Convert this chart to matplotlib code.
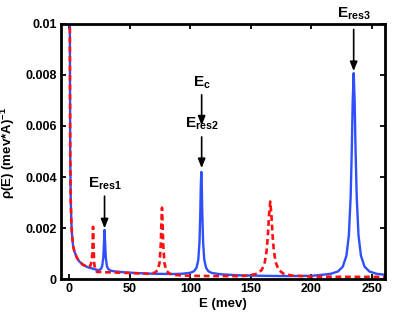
import matplotlib
matplotlib.use("Agg")
import matplotlib.pyplot as plt

plt.rcParams['font.family'] = ['Liberation Sans', 'DejaVu Sans']
plt.rcParams['font.weight'] = 'bold'
plt.rcParams['mathtext.fontset'] = 'custom'
plt.rcParams['mathtext.rm'] = 'Liberation Sans:bold'
plt.rcParams['mathtext.bf'] = 'Liberation Sans:bold'
plt.rcParams['mathtext.it'] = 'Liberation Sans'
plt.rcParams['mathtext.sf'] = 'Liberation Sans'

# Blue solid curve (E in mev, rho)
blue_E = [0.1, 0.3, 0.6, 1, 1.5, 2, 3, 4, 6, 8, 11, 15, 20, 24, 26, 27, 28, 28.5, 29,
          29.5, 30, 31, 32, 34, 38, 45, 55, 70, 85, 93, 100, 103, 105, 106.5, 107.5,
          108.2, 108.6, 109, 109.4, 109.8, 110.5, 111.5, 113, 115, 118, 125, 140, 160,
          180, 200, 209, 216, 222, 226, 229, 231, 232.5, 233.5, 234.2, 235, 235.8,
          236.5, 237.5, 239, 241, 244, 248, 254, 261]
blue_rho = [0.02, 0.01, 0.005, 0.0032, 0.0023, 0.0018, 0.0013, 0.0011, 0.00085, 0.0007,
            0.00057, 0.00047, 0.0004, 0.00035, 0.0004, 0.0005, 0.00085, 0.00138, 0.00193,
            0.00138, 0.00085, 0.0005, 0.0004, 0.00033, 0.0003, 0.00027, 0.00024, 0.00021,
            0.0002, 0.00021, 0.00025, 0.00031, 0.00044, 0.00075, 0.00143,
            0.00264, 0.00365, 0.0042, 0.00365, 0.00264, 0.00143, 0.00075, 0.00044, 0.0003,
            0.00024, 0.00019, 0.00015, 0.00013,
            0.00012, 0.00013, 0.00017, 0.00021, 0.0003, 0.00049, 0.00092, 0.00171, 0.00322,
            0.0052, 0.00697, 0.00807, 0.00697,
            0.0052, 0.00322, 0.00171, 0.00092, 0.00049, 0.0003, 0.00021, 0.00017]

# Red dashed curve
red_E = [0.1, 0.3, 0.6, 1, 1.5, 2, 3, 4, 6, 8, 11, 15, 17, 18.5, 19, 19.5, 20, 20.5,
         21.5, 23, 26, 30, 38, 50, 60, 65, 70.5, 73, 74.5, 75.5, 76, 76.5, 77, 77.5,
         78.5, 80, 82.5, 88, 100, 120, 140, 148, 155, 159, 161.5, 163, 164, 165, 166,
         167, 168, 169, 170.5, 173, 177, 184, 200, 230, 261]
red_rho = [0.02, 0.01, 0.005, 0.0032, 0.0023, 0.0018, 0.0013, 0.0011, 0.00085, 0.0007,
           0.00057, 0.00047, 0.0005, 0.0007, 0.0012, 0.00205, 0.0012, 0.0006,
           0.00033, 0.00028, 0.00028, 0.00027, 0.00026, 0.00024, 0.00022, 0.00021,
           0.00025, 0.00036, 0.00064, 0.00137, 0.0022, 0.0028, 0.0022, 0.00137,
           0.00064, 0.00034, 0.00022, 0.00016, 0.00013, 0.00012, 0.00012, 0.00014,
           0.00021, 0.00036, 0.00066, 0.00111, 0.00168, 0.0025, 0.00304,
           0.0025, 0.00168, 0.00111, 0.00066, 0.00036, 0.00021, 0.00014, 0.0001,
           0.00009, 0.00009]

x_ticks = [0, 50, 100, 150, 200, 250]
y_ticks = [0, 0.002, 0.004, 0.006, 0.008, 0.01]
y_ticklabels = ['0', '0.002', '0.004', '0.006', '0.008', '0.01']

# annotations: label, x, text y, arrow start y, arrow end y
ann_labels = [r'$\mathbf{E_{res1}}$', r'$\mathbf{E_{c}}$', r'$\mathbf{E_{res2}}$', r'$\mathbf{E_{res3}}$']
ann_x = [29, 109.3, 109.3, 235]
ann_text_y = [0.00372, 0.0077, 0.0061, 0.0104]
ann_arrow_top = [0.00325, 0.00722, 0.00557, 0.00978]
ann_arrow_bot = [0.00199, 0.00602, 0.00435, 0.00815]

fig = plt.figure(figsize=(4.15, 3.14), dpi=100)
ax = fig.add_axes([0.147, 0.111, 0.781, 0.813])

ax.plot(blue_E, blue_rho, color='#2f4fff', lw=1.7, solid_joinstyle='round')
ax.plot(red_E, red_rho, color='#ff1010', lw=1.9, ls=(0, (2.2, 1.4)))

ax.set_xlim(-7, 261)
ax.set_ylim(0, 0.01)
ax.set_xticks(x_ticks)
ax.set_xticklabels([str(v) for v in x_ticks])
ax.set_yticks(y_ticks)
ax.set_yticklabels(y_ticklabels)
ax.tick_params(direction='in', length=3.5, width=1.3, top=True, right=True,
               labelsize=9, pad=3)
for lab in ax.get_xticklabels() + ax.get_yticklabels():
    lab.set_fontweight('bold')
for sp in ax.spines.values():
    sp.set_linewidth(2)

ax.set_xlabel('E (mev)', fontsize=9.5, fontweight='bold', labelpad=2)
ax.set_ylabel(r'$\mathsf{\rho}$(E) (mev*A)$^{\mathbf{-1}}$', fontsize=9.5, fontweight='bold')
ax.yaxis.set_label_coords(-0.136, 0.495)

for lab, x, ty, a0, a1 in zip(ann_labels, ann_x, ann_text_y, ann_arrow_top, ann_arrow_bot):
    ax.text(x, ty, lab, ha='center', va='center', fontsize=11, clip_on=False)
    ax.annotate('', xy=(x, a1), xytext=(x, a0),
                arrowprops=dict(arrowstyle='-|>,head_length=0.55,head_width=0.22',
                                color='black', lw=1.2,
                                mutation_scale=10, shrinkA=0, shrinkB=0),
                annotation_clip=False)

fig.savefig('out.png', dpi=100)
